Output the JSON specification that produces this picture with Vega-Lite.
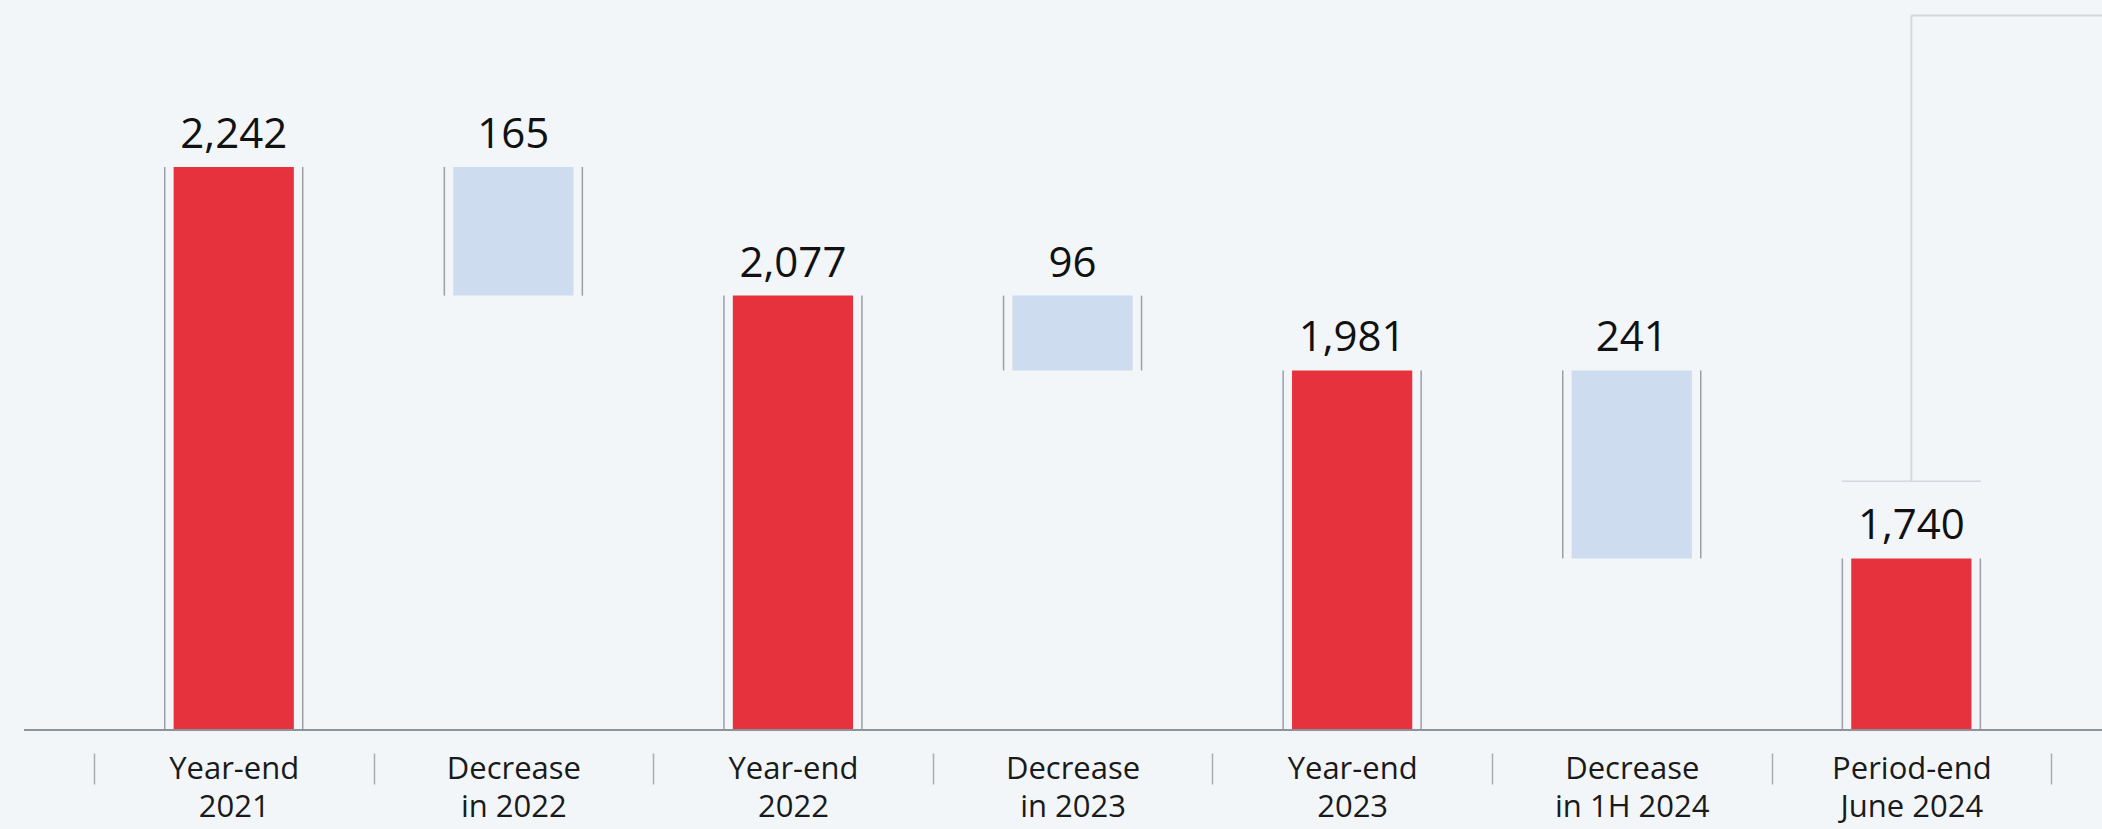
{
  "$schema": "https://vega.github.io/schema/vega-lite/v6.json",
  "width": 2078,
  "height": 730,
  "autosize": {"type": "none"},
  "padding": {"left": 24, "top": 0, "right": 0, "bottom": 99},
  "background": "#f2f6f9",
  "config": {"view": {"stroke": null}, "font": "Open Sans"},
  "datasets": {
    "bars": [
      {"cat": "Year-end\n2021", "start": 0, "end": 2242, "amount": 2242, "kind": "total"},
      {"cat": "Decrease\nin 2022", "start": 2077, "end": 2242, "amount": 165, "kind": "decrease"},
      {"cat": "Year-end\n2022", "start": 0, "end": 2077, "amount": 2077, "kind": "total"},
      {"cat": "Decrease\nin 2023", "start": 1981, "end": 2077, "amount": 96, "kind": "decrease"},
      {"cat": "Year-end\n2023", "start": 0, "end": 1981, "amount": 1981, "kind": "total"},
      {"cat": "Decrease\nin 1H 2024", "start": 1740, "end": 1981, "amount": 241, "kind": "decrease"},
      {"cat": "Period-end\nJune 2024", "start": 0, "end": 1740, "amount": 1740, "kind": "total"}
    ],
    "connector": [
      {"cat": "Period-end\nJune 2024", "low": 1839, "high": 2436}
    ]
  },
  "data": {"name": "bars"},
  "encoding": {
    "x": {
      "field": "cat",
      "type": "nominal",
      "sort": null,
      "scale": {"paddingInner": 0, "paddingOuter": 0.216, "align": 0.579},
      "axis": {
        "title": null,
        "domain": false,
        "ticks": true,
        "tickBand": "extent",
        "tickColor": "#a9adb1",
        "tickWidth": 1.5,
        "tickSize": 31,
        "offset": 23,
        "labelAngle": 0,
        "labelFont": "Open Sans",
        "labelFontSize": 31,
        "labelColor": "#1a1a1a",
        "labelLineHeight": 38,
        "labelPadding": -29.5,
        "labelLimit": 0,
        "labelExpr": "split(datum.label, '\\n')"
      }
    }
  },
  "layer": [
    {
      "mark": {"type": "bar", "width": {"band": 0.43}, "clip": true},
      "encoding": {
        "y": {"field": "end", "type": "quantitative", "scale": {"domain": [1520, 2456], "zero": false, "nice": false}, "axis": null},
        "y2": {"field": "start"},
        "color": {"field": "kind", "type": "nominal", "scale": {"domain": ["total", "decrease"], "range": ["#e6323c", "#cddcee"]}, "legend": null}
      }
    },
    {
      "mark": {"type": "rule", "xOffset": -69, "color": "#9c9fa3", "strokeWidth": 1.5, "clip": true},
      "encoding": {
        "y": {"field": "end", "type": "quantitative"},
        "y2": {"field": "start"}
      }
    },
    {
      "mark": {"type": "rule", "xOffset": 69, "color": "#9c9fa3", "strokeWidth": 1.5, "clip": true},
      "encoding": {
        "y": {"field": "end", "type": "quantitative"},
        "y2": {"field": "start"}
      }
    },
    {
      "mark": {"type": "text", "baseline": "alphabetic", "dy": -19, "fontSize": 42, "font": "Open Sans", "color": "#111111"},
      "encoding": {
        "y": {"field": "end", "type": "quantitative"},
        "text": {"field": "amount", "type": "quantitative", "format": ",d"}
      }
    },
    {
      "mark": {"type": "rule", "color": "#8e9398", "strokeWidth": 1.5},
      "encoding": {"y": {"datum": 1520}, "x": null}
    },
    {
      "data": {"name": "connector"},
      "mark": {"type": "tick", "orient": "horizontal", "size": 139, "thickness": 1.5, "color": "#c8ccd1"},
      "encoding": {
        "y": {"field": "low", "type": "quantitative"}
      }
    },
    {
      "data": {"name": "connector"},
      "mark": {"type": "rule", "color": "#d4d8dc", "strokeWidth": 2},
      "encoding": {
        "y": {"field": "low", "type": "quantitative"},
        "y2": {"field": "high"}
      }
    },
    {
      "data": {"name": "connector"},
      "mark": {"type": "rule", "color": "#d4d8dc", "strokeWidth": 2},
      "encoding": {
        "y": {"field": "high", "type": "quantitative"},
        "x2": {"value": "width"}
      }
    }
  ]
}
